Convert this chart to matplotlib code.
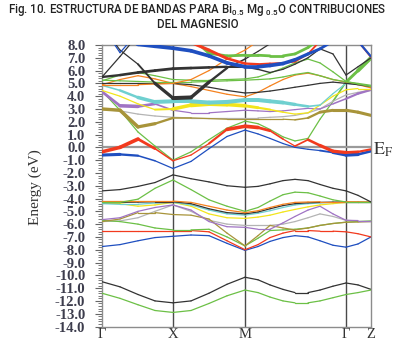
import matplotlib
matplotlib.use("Agg")
import matplotlib.pyplot as plt
import matplotlib.font_manager as fm
from matplotlib.collections import LineCollection
from matplotlib.ticker import AutoMinorLocator, FuncFormatter
import numpy as np

# ---------------- data ----------------
# k-path distance (Γ, X, M, Γ, Z and sample points between them)
k_path = [0, 18, 36, 53, 71, 89, 107, 125, 143, 156, 168, 181, 193, 206, 218, 231, 244, 256, 269]
k_special = [0, 71, 143, 244, 269]
k_labels = ["Γ", "X", "M", "Γ", "Z"]
y_ticks = list(np.arange(-14, 8.5, 1.0))

# band energies (eV) at the k_path points
black_low = [-10.5, -10.9, -11.5, -12.0, -12.15, -12.0, -11.4, -10.7, -10.15, -10.35, -10.75, -11.1, -11.35, -11.35, -11.15, -10.85, -10.6, -10.75, -11.1]
green_low = [-11.4, -11.8, -12.3, -12.75, -12.9, -12.75, -12.2, -11.6, -11.15, -11.35, -11.7, -12.0, -12.15, -12.15, -12.0, -11.75, -11.5, -11.35, -11.15]
blue_deep = [-7.75, -7.6, -7.3, -7.05, -6.95, -6.85, -6.9, -7.5, -8.05, -7.75, -7.35, -7.05, -6.9, -7.0, -7.3, -7.65, -7.8, -7.55, -7.0]
red_deep = [-6.5, -6.5, -6.5, -6.5, -6.5, -6.5, -6.6, -7.3, -8.0, -7.6, -7.05, -6.7, -6.5, -6.5, -6.55, -6.55, -6.6, -6.75, -7.0]
green_mid = [-5.7, -5.8, -6.0, -6.3, -6.45, -6.45, -6.4, -7.0, -7.7, -7.1, -6.5, -6.45, -6.4, -6.3, -6.1, -5.95, -5.85, -5.8, -5.75]
olive_mid = [-5.8, -5.6, -5.1, -5.1, -5.25, -5.3, -5.6, -6.7, -7.7, -6.9, -6.1, -6.3, -6.45, -6.3, -6.1, -5.95, -5.85, -5.83, -5.8]
purple_mid = [-5.65, -5.5, -5.0, -4.7, -4.5, -4.9, -5.8, -6.2, -6.25, -6.4, -6.4, -5.9, -5.4, -4.9, -4.6, -5.2, -5.7, -5.72, -5.72]
gray_mid = [-5.8, -5.75, -5.5, -5.0, -4.5, -5.0, -5.7, -6.0, -6.1, -6.1, -6.1, -6.0, -5.8, -5.5, -5.2, -5.4, -5.7, -5.75, -5.75]
green_ridge = [-4.3, -4.3, -4.05, -3.2, -2.55, -3.3, -4.1, -4.6, -5.0, -4.7, -4.2, -3.7, -3.5, -3.55, -3.8, -4.1, -4.27, -4.27, -4.27]
orange_mid = [-4.2, -4.2, -4.2, -4.2, -4.2, -4.3, -4.6, -4.9, -5.1, -4.95, -4.7, -4.45, -4.3, -4.27, -4.25, -4.25, -4.25, -4.26, -4.27]
black_mid = [-4.3, -4.3, -4.28, -4.25, -4.25, -4.4, -4.8, -5.1, -5.2, -5.05, -4.8, -4.55, -4.4, -4.33, -4.3, -4.28, -4.27, -4.27, -4.27]
cyan_mid = [-4.4, -4.45, -4.45, -4.35, -4.3, -4.5, -4.9, -5.2, -5.3, -5.15, -4.95, -4.7, -4.5, -4.4, -4.35, -4.3, -4.3, -4.28, -4.27]
yellow_mid = [-4.35, -4.4, -4.6, -4.5, -4.3, -4.6, -5.2, -5.5, -5.55, -5.45, -5.3, -5.05, -4.85, -4.65, -4.5, -4.4, -4.3, -4.28, -4.27]
black_v = [-3.4, -3.3, -3.05, -2.75, -2.15, -2.45, -2.7, -3.0, -3.12, -3.05, -2.85, -2.6, -2.5, -2.6, -2.9, -3.2, -3.4, -3.75, -4.27]
blue_vb = [-0.6, -0.55, -0.65, -1.05, -1.65, -1.1, -0.1, 0.85, 1.35, 1.05, 0.7, 0.3, 0.0, -0.15, -0.25, -0.4, -0.6, -0.55, -0.3]
red_vb = [-0.35, 0.0, 0.65, -0.1, -1.05, -0.6, 0.3, 1.4, 1.65, 1.55, 1.3, 0.65, 0.1, 0.6, 0.15, -0.3, -0.4, -0.35, -0.15]
green_v = [4.4, 2.9, 1.2, 0.1, -1.0, -0.35, 0.6, 1.5, 2.05, 1.85, 1.4, 0.82, 0.5, 0.7, 2.2, 3.6, 5.1, 6.0, 7.0]
olive_up = [3.0, 2.9, 1.6, 1.85, 2.3, 2.3, 2.25, 2.2, 2.2, 2.2, 2.2, 2.2, 2.15, 2.3, 2.75, 2.9, 2.9, 2.75, 2.5]
gray_up = [2.95, 2.85, 2.6, 2.45, 2.35, 2.3, 2.3, 2.3, 2.3, 2.3, 2.35, 2.4, 2.5, 2.7, 3.0, 3.6, 4.1, 4.3, 4.45]
purple_up = [4.35, 3.25, 3.2, 3.4, 2.9, 2.7, 2.7, 2.8, 2.9, 2.85, 2.8, 2.85, 2.95, 3.05, 3.0, 3.4, 3.8, 4.2, 4.5]
yellow_up = [4.45, 4.0, 3.4, 2.95, 3.0, 3.3, 3.4, 3.35, 3.25, 3.1, 2.95, 2.75, 2.6, 2.7, 3.3, 4.0, 4.5, 4.6, 4.6]
cyan_up = [4.85, 4.45, 3.9, 3.55, 3.6, 3.6, 3.5, 3.55, 3.7, 3.7, 3.6, 3.5, 3.35, 3.2, 3.3, 4.2, 5.0, 4.9, 4.75]
orange_up1 = [4.9, 5.3, 5.6, 5.35, 5.0, 4.75, 4.45, 4.15, 3.95, 4.3, 4.8, 5.3, 5.65, 5.8, 5.6, 5.3, 5.1, 4.9, 4.65]
orange_up2 = [4.9, 4.9, 4.9, 4.95, 5.0, 5.3, 6.0, 6.9, 7.6, 8.3, 9.5, 9.5, 9.5, 9.5, 9.5, 9.5, 9.5, 9.5, 9.5]
black_thin = [5.0, 5.0, 5.0, 5.0, 5.0, 4.9, 4.7, 4.45, 4.25, 4.3, 4.4, 4.55, 4.7, 4.85, 5.0, 5.1, 5.0, 4.9, 4.75]
green_flat = [5.25, 5.2, 5.15, 5.1, 5.1, 5.1, 5.15, 5.2, 5.25, 5.3, 5.35, 5.5, 5.7, 5.85, 5.6, 5.3, 5.13, 5.0, 4.85]
green_arc = [5.2, 5.65, 5.85, 5.6, 5.3, 5.25, 5.25, 5.3, 5.35, 5.5, 5.8, 6.2, 6.6, 6.9, 6.6, 5.9, 5.15, 4.95, 4.75]
black_gray = [5.5, 5.65, 5.85, 6.0, 6.15, 6.2, 6.25, 6.3, 6.3, 6.1, 5.85, 6.1, 6.5, 7.0, 7.7, 7.3, 5.65, 6.3, 7.0]
black_u = [9.5, 7.6, 6.5, 5.0, 3.85, 3.9, 5.1, 6.2, 6.9, 7.5, 8.1, 8.7, 9.5, 9.5, 9.5, 9.5, 9.5, 9.5, 9.5]
black_steep = [5.5, 7.1, 8.8, 9.5, 9.5, 9.5, 9.5, 9.5, 9.5, 9.5, 9.5, 9.5, 9.5, 9.5, 9.5, 9.5, 9.5, 9.5, 9.5]
blue_v = [9.5, 7.4, 9.0, 9.5, 9.5, 9.5, 9.5, 9.5, 9.5, 9.5, 9.5, 9.5, 9.5, 9.5, 9.5, 9.5, 9.5, 9.5, 9.5]
blue_top = [9.5, 9.0, 8.05, 7.9, 7.75, 7.55, 7.15, 6.6, 6.3, 6.3, 6.4, 6.55, 6.85, 7.3, 7.7, 8.3, 9.5, 8.3, 7.1]
red_top = [9.5, 9.5, 9.5, 9.5, 9.5, 8.2, 7.6, 6.95, 6.55, 6.5, 6.55, 6.6, 6.7, 7.3, 8.3, 9.5, 9.5, 8.3, 7.05]
green_top = [9.5, 9.5, 9.5, 9.5, 9.5, 8.6, 7.35, 7.15, 7.2, 7.2, 7.15, 7.15, 7.3, 7.8, 8.5, 9.5, 9.5, 9.5, 9.5]

# Mg projected contribution (fat-band weight) at the k_path points
w_blue_vb = [0.7, 0.5, 0.2, 0, 0, 0, 0, 0, 0, 0, 0, 0, 0, 0, 0, 0.4, 0.8, 0.6, 0.3]
w_red_vb = [0.7, 0.8, 0.8, 0.2, 0, 0, 0, 0.6, 0.9, 0.7, 0.3, 0, 0, 0.3, 0.6, 0.7, 0.6, 0.4, 0.2]
w_green_v = [0, 0, 0, 0, 0, 0, 0, 0, 0, 0, 0, 0, 0, 0, 0, 0, 0.3, 0.8, 0.9]
w_olive_up = [0.7, 0.7, 0.8, 0.5, 0.2, 0, 0, 0, 0, 0, 0, 0, 0, 0.2, 0.5, 0.6, 0.6, 0.6, 0.6]
w_purple_up = [0.2, 0.8, 0.7, 0.3, 0, 0, 0, 0, 0, 0, 0, 0, 0, 0, 0, 0, 0.2, 0.4, 0.3]
w_yellow_up = [0, 0, 0, 0, 0.5, 1.0, 1.0, 0.9, 0.7, 0.4, 0.2, 0, 0, 0, 0, 0, 0, 0, 0]
w_cyan_up = [0, 0.2, 0.6, 0.9, 0.9, 0.9, 0.9, 0.9, 0.9, 0.9, 0.9, 0.8, 0.6, 0.3, 0, 0, 0, 0, 0]
w_black_u = [0, 0, 0, 0.4, 0.9, 0.9, 0.5, 0.2, 0, 0, 0, 0, 0, 0, 0, 0, 0, 0, 0]
w_black_gray = [0.3, 0.4, 0.5, 0.5, 0.5, 0.5, 0.4, 0.3, 0.2, 0.1, 0, 0, 0, 0, 0, 0, 0, 0, 0]
w_blue_top = [0.8, 0.8, 0.8, 0.8, 0.8, 0.8, 0.8, 0.8, 0.8, 0.8, 0.8, 0.8, 0.7, 0.6, 0.5, 0.5, 0.5, 0.3, 0.3]
w_red_top = [0, 0, 0, 0, 0, 0.6, 0.6, 0.5, 0.4, 0.3, 0.2, 0.2, 0.2, 0.2, 0.2, 0.2, 0.2, 0.2, 0.2]
w_green_top = [0.5, 0.5, 0.5, 0.5, 0.5, 0.5, 0.5, 0.5, 0.5, 0.5, 0.5, 0.5, 0.5, 0.5, 0.5, 0.5, 0.5, 0.5, 0.5]

C_BLACK, C_GREEN, C_BLUE, C_RED = "#333333", "#6cc046", "#1f4fc0", "#f23a1e"
C_ORANGE, C_CYAN, C_YELLOW, C_PURPLE = "#f5821f", "#6fd0d0", "#f2e51c", "#a074c4"
C_OLIVE, C_GRAY = "#a8943a", "#b4b4b4"

bands = [
    (black_low, C_BLACK, None), (green_low, C_GREEN, None),
    (blue_deep, C_BLUE, None), (red_deep, C_RED, None),
    (gray_mid, C_GRAY, None), (green_mid, C_GREEN, None), (olive_mid, C_OLIVE, None),
    (purple_mid, C_PURPLE, None), (yellow_mid, C_YELLOW, None), (cyan_mid, C_CYAN, None),
    (black_mid, C_BLACK, None), (orange_mid, C_ORANGE, None), (green_ridge, C_GREEN, None),
    (black_v, C_BLACK, None),
    (blue_vb, C_BLUE, w_blue_vb), (green_v, C_GREEN, w_green_v), (red_vb, C_RED, w_red_vb),
    (gray_up, C_GRAY, None), (olive_up, C_OLIVE, w_olive_up), (purple_up, C_PURPLE, w_purple_up),
    (yellow_up, C_YELLOW, w_yellow_up), (cyan_up, C_CYAN, w_cyan_up),
    (orange_up1, C_ORANGE, None), (black_thin, C_BLACK, None), (green_flat, C_GREEN, None),
    (green_arc, C_GREEN, None), (orange_up2, C_ORANGE, None),
    (black_gray, C_BLACK, w_black_gray), (black_u, C_BLACK, w_black_u), (black_steep, C_BLACK, None),
    (blue_v, C_BLUE, None), (green_top, C_GREEN, w_green_top), (red_top, C_RED, w_red_top),
    (blue_top, C_BLUE, w_blue_top),
]

# ---------------- figure ----------------
W, H = 395, 341
fig = plt.figure(figsize=(W / 100, H / 100), dpi=100)
ax = fig.add_axes([102 / W, 1 - 326.5 / H, (371 - 102) / W, (326.5 - 45) / H])

k = np.array(k_path, dtype=float)
for vals, col, wts in bands:
    e = np.array(vals, dtype=float)
    pts = np.column_stack([k, e])
    segs = np.stack([pts[:-1], pts[1:]], axis=1)
    if wts is None:
        widths = np.full(len(segs), 0.9)
    else:
        w = np.array(wts, dtype=float)
        widths = 0.9 + 2.2 * 0.5 * (w[:-1] + w[1:])
    lc = LineCollection(segs, colors=col, linewidths=widths, capstyle="round",
                        joinstyle="round", zorder=3)
    ax.add_collection(lc)

ax.set_xlim(k_special[0], k_special[-1])
ax.set_ylim(-14, 8)

for kx in k_special[1:-1]:
    ax.axvline(kx, color="#4a4a4a", lw=1.0, zorder=2)
ax.axhline(0, color="#9a9a9a", lw=1.6, zorder=2)

for s in ax.spines.values():
    s.set_color("#8c8c8c")
    s.set_linewidth(1.0)

ax.set_xticks(k_special)
ax.set_xticklabels(k_labels, fontfamily="Liberation Serif", fontsize=10.5, color="#333333")
ax.tick_params(axis="x", length=0, pad=1)

ax.set_yticks(y_ticks)
ax.yaxis.set_major_formatter(FuncFormatter(lambda v, p: ("%.1f" % v).replace("\u2212", "-")))
ax.yaxis.set_minor_locator(AutoMinorLocator(5))
ax.tick_params(axis="y", which="major", direction="out", length=5, width=0.8, color="#666666", pad=7)
ax.tick_params(axis="y", which="minor", direction="out", length=3, width=0.6, color="#666666")
for lab in ax.get_yticklabels():
    lab.set_fontfamily("Liberation Serif")
    lab.set_fontweight("bold")
    lab.set_fontsize(10.5)
    lab.set_color("#3d3d4d")

plt.rcParams["mathtext.fontset"] = "stix"
fig.text(373 / W, 1 - 150 / H, r"$\mathrm{E_F}$", fontsize=13, color="#333333",
         ha="left", va="center")

fig.text(35 / W, 1 - 187 / H, "Energy (eV)", rotation=90, fontfamily="Liberation Serif",
         fontsize=11, color="#333333", ha="center", va="center")

names = {f.name for f in fm.fontManager.ttflist}
tfont = "Liberation Sans Narrow" if "Liberation Sans Narrow" in names else "Roboto"
tsize = 10.5 if tfont == "Liberation Sans Narrow" else 8.3
fig.text(197 / W, 1 - 10 / H,
         r"Fig. 10. ESTRUCTURA DE BANDAS PARA Bi$\mathregular{_{0.5}}$ Mg $\mathregular{_{0.5}}$O CONTRIBUCIONES",
         fontfamily=tfont, fontsize=tsize, fontweight="medium", color="#222222", ha="center", va="center")
fig.text(198 / W, 1 - 24 / H, "DEL MAGNESIO", fontfamily=tfont, fontsize=tsize,
         fontweight="medium", color="#222222", ha="center", va="center")

fig.savefig("out.png", dpi=100)
